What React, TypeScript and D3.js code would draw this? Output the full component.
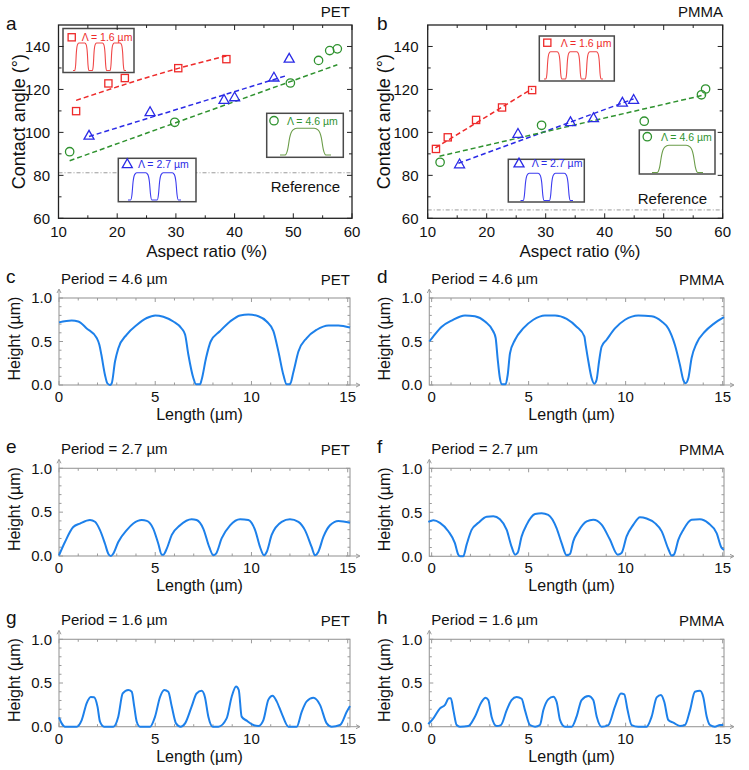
import React from 'react';
import * as d3 from 'd3';

const FONT = "'Liberation Sans', Arial, sans-serif";
const TXT = '#111';

// ---------- Contact angle data (a: PET, b: PMMA) ----------
const aspectTicks = [10, 20, 30, 40, 50, 60];
const angleTicks = [60, 80, 100, 120, 140];

const petRedX = [13.0, 18.5, 21.3, 30.4, 38.6];
const petRedY = [109.9, 122.8, 125.3, 129.9, 134.1];
const petRedFit: [number, number][] = [[13.0, 114.9], [30.4, 129.8], [38.6, 135.6]];
const petBlueX = [15.2, 25.6, 38.2, 40.0, 46.7, 49.3];
const petBlueY = [98.5, 109.5, 115.2, 116.4, 125.6, 134.4];
const petBlueFit: [number, number][] = [[15.2, 98.1], [48.8, 126.4]];
const petGreenX = [11.9, 29.8, 49.5, 54.3, 56.2, 57.5];
const petGreenY = [91.0, 104.7, 123.0, 133.5, 138.1, 138.9];
const petGreenFit: [number, number][] = [[11.9, 86.8], [57.5, 131.5]];
const petReference = 81.2;

const pmmaRedX = [11.4, 13.4, 18.2, 22.6, 27.7];
const pmmaRedY = [92.3, 97.7, 105.8, 111.6, 119.7];
const pmmaRedFit: [number, number][] = [[11.3, 92.8], [27.7, 120.3]];
const pmmaBlueX = [15.4, 25.3, 34.2, 38.1, 43.0, 44.9];
const pmmaBlueY = [85.2, 99.4, 104.8, 106.7, 113.9, 115.2];
const pmmaBlueFit: [number, number][] = [[15.2, 85.6], [44.9, 115.6]];
const pmmaGreenX = [12.1, 29.3, 46.7, 56.4, 57.1];
const pmmaGreenY = [86.1, 103.3, 105.2, 117.5, 120.2];
const pmmaGreenFit: [number, number][] = [[12.0, 88.9], [57.0, 117.5]];
const pmmaReference = 63.9;

const periodLabels = ['Λ = 1.6 µm', 'Λ = 2.7 µm', 'Λ = 4.6 µm'];
const humpCounts = [3, 2, 1];
const insetHump: [number, number][] = [
  [0, 0], [0.1, 0], [0.15, 0.2], [0.19, 0.65], [0.25, 0.93], [0.33, 1],
  [0.67, 1], [0.75, 0.93], [0.81, 0.65], [0.85, 0.2], [0.9, 0], [1, 0],
];

// ---------- Height profiles (c–h) ----------
const lengthTicks = [0, 5, 10, 15];
const heightTicks = [0, 0.5, 1.0];

const profC: [number, number][] = [
  [0, 0.72], [0.66, 0.74], [1.0, 0.73], [1.44, 0.65], [1.96, 0.54], [2.1, 0.46], [2.2, 0.35],
  [2.39, 0.115], [2.51, 0.02], [2.65, 0], [2.74, 0.02], [2.91, 0.27], [3.08, 0.42], [3.52, 0.58],
  [4.04, 0.69], [4.56, 0.77], [5.0, 0.8], [5.42, 0.785], [5.94, 0.73], [6.37, 0.65], [6.55, 0.58],
  [6.72, 0.35], [6.98, 0.08], [7.12, 0.008], [7.33, 0.008], [7.41, 0.06], [7.64, 0.31], [7.88, 0.5],
  [8.37, 0.62], [8.89, 0.73], [9.41, 0.8], [9.84, 0.81], [10.36, 0.79], [10.79, 0.73], [11.14, 0.62],
  [11.4, 0.385], [11.66, 0.115], [11.83, 0.008], [12.0, 0.008], [12.18, 0.15], [12.44, 0.385],
  [12.87, 0.54], [13.39, 0.635], [14.0, 0.685], [14.52, 0.685], [15.12, 0.66],
];
const profD: [number, number][] = [
  [-0.12, 0.5], [0.09, 0.56], [0.52, 0.67], [1.03, 0.74], [1.72, 0.8], [2.23, 0.79], [2.75, 0.73],
  [3.18, 0.615], [3.3, 0.54], [3.4, 0.31], [3.52, 0.077], [3.63, 0.008], [3.81, 0.008], [3.92, 0.115],
  [4.04, 0.365], [4.3, 0.52], [4.72, 0.65], [5.24, 0.75], [5.84, 0.8], [6.36, 0.8], [6.96, 0.76],
  [7.47, 0.67], [7.87, 0.56], [7.94, 0.46], [8.08, 0.27], [8.25, 0.077], [8.38, 0.015], [8.5, 0.058],
  [8.63, 0.27], [8.76, 0.44], [9.02, 0.52], [9.45, 0.65], [9.97, 0.75], [10.65, 0.8], [11.34, 0.79],
  [11.86, 0.73], [12.2, 0.65], [12.54, 0.46], [12.8, 0.23], [12.97, 0.058], [13.09, 0.02],
  [13.23, 0.077], [13.4, 0.31], [13.66, 0.48], [14.09, 0.615], [14.52, 0.7], [15.07, 0.78],
];
const profE: [number, number][] = [
  [0, 0.008], [0.31, 0.16], [0.74, 0.33], [1.09, 0.37], [1.61, 0.41], [1.87, 0.39], [2.13, 0.295],
  [2.39, 0.14], [2.56, 0.027], [2.7, 0], [2.82, 0.027], [3.08, 0.16], [3.52, 0.295], [3.86, 0.37],
  [4.3, 0.41], [4.56, 0.4], [4.9, 0.31], [5.16, 0.14], [5.34, 0.015], [5.42, 0.015], [5.6, 0.084],
  [5.86, 0.24], [6.29, 0.35], [6.89, 0.42], [7.15, 0.41], [7.5, 0.31], [7.81, 0.1], [8.02, 0.008],
  [8.16, 0.027], [8.45, 0.2], [8.89, 0.35], [9.41, 0.42], [9.84, 0.41], [10.19, 0.295], [10.45, 0.1],
  [10.65, 0.008], [10.79, 0.046], [11.05, 0.24], [11.57, 0.39], [12.0, 0.42], [12.44, 0.39],
  [12.78, 0.295], [13.13, 0.1], [13.3, 0.008], [13.47, 0.046], [13.74, 0.22], [14.08, 0.35],
  [14.52, 0.4], [15.12, 0.38],
];
const profF: [number, number][] = [
  [-0.17, 0.39], [0.09, 0.41], [0.43, 0.38], [0.86, 0.285], [1.2, 0.15], [1.37, 0.02], [1.46, 0],
  [1.63, 0], [1.8, 0.13], [2.06, 0.3], [2.41, 0.38], [2.84, 0.45], [3.18, 0.455], [3.52, 0.42],
  [3.87, 0.3], [4.12, 0.11], [4.3, 0.019], [4.43, 0.038], [4.64, 0.226], [4.9, 0.36], [5.33, 0.48],
  [5.67, 0.49], [6.01, 0.47], [6.44, 0.32], [6.7, 0.15], [6.96, 0.011], [7.13, 0.026], [7.3, 0.17],
  [7.56, 0.283], [7.99, 0.396], [8.33, 0.415], [8.76, 0.36], [9.19, 0.19], [9.59, 0.019],
  [9.79, 0.038], [10.05, 0.226], [10.4, 0.36], [10.74, 0.445], [11.08, 0.43], [11.51, 0.377],
  [11.86, 0.283], [12.2, 0.083], [12.37, 0.008], [12.49, 0.019], [12.72, 0.19], [12.97, 0.3],
  [13.4, 0.415], [13.83, 0.42], [14.26, 0.377], [14.69, 0.264], [14.95, 0.094], [15.07, 0.075],
];
const profG: [number, number][] = [
  [0, 0.107], [0.14, 0.038], [0.31, 0], [0.92, 0], [1.18, 0.076], [1.44, 0.27], [1.65, 0.34],
  [1.82, 0.336], [2.0, 0.23], [2.13, 0.057], [2.34, 0], [2.82, 0], [3.08, 0.115], [3.31, 0.38],
  [3.6, 0.42], [3.78, 0.4], [3.91, 0.23], [4.04, 0.057], [4.21, 0], [4.73, 0], [4.99, 0.115],
  [5.25, 0.34], [5.47, 0.42], [5.68, 0.4], [5.86, 0.23], [6.08, 0.038], [6.32, 0], [6.55, 0.038],
  [6.89, 0.23], [7.15, 0.38], [7.41, 0.41], [7.58, 0.34], [7.76, 0.115], [7.99, 0], [8.28, 0],
  [8.71, 0.095], [8.97, 0.34], [9.2, 0.46], [9.34, 0.42], [9.49, 0.115], [9.75, 0.069], [10.1, 0.019],
  [10.36, 0.008], [10.62, 0.076], [10.88, 0.31], [11.1, 0.355], [11.31, 0.29], [11.57, 0.153],
  [11.92, 0], [12.35, 0], [12.61, 0.17], [12.87, 0.29], [13.22, 0.33], [13.56, 0.25], [13.91, 0.038],
  [14.17, 0], [14.6, 0.019], [14.95, 0.17], [15.12, 0.237],
];
const profH: [number, number][] = [
  [-0.17, 0.03], [0.09, 0.095], [0.43, 0.21], [0.69, 0.25], [0.89, 0.325], [0.99, 0.325],
  [1.12, 0.19], [1.29, 0.019], [1.46, 0], [1.89, 0.008], [2.23, 0.115], [2.58, 0.286], [2.78, 0.33],
  [2.92, 0.305], [3.09, 0.115], [3.35, 0.008], [3.57, 0.019], [3.87, 0.19], [4.12, 0.305],
  [4.38, 0.34], [4.64, 0.32], [4.81, 0.19], [5.07, 0.019], [5.33, 0], [5.58, 0.019], [5.76, 0.19],
  [6.01, 0.313], [6.27, 0.343], [6.44, 0.286], [6.62, 0.076], [6.87, 0], [7.22, 0], [7.47, 0.115],
  [7.73, 0.305], [8.08, 0.35], [8.33, 0.305], [8.51, 0.115], [8.76, 0], [9.11, 0.019], [9.45, 0.23],
  [9.76, 0.38], [9.93, 0.37], [10.1, 0.19], [10.31, 0.019], [10.65, 0], [11.08, 0], [11.34, 0.115],
  [11.6, 0.336], [11.82, 0.363], [11.99, 0.286], [12.2, 0.076], [12.46, 0.046], [12.8, 0.008],
  [13.06, 0.019], [13.32, 0.19], [13.57, 0.4], [13.83, 0.41], [14.0, 0.34], [14.18, 0.115],
  [14.35, 0.019], [14.6, 0], [14.86, 0.019], [15.03, 0.019],
];

// ---------- styles ----------
const RED = '#ee2a2a';
const BLUE = '#2a2ae6';
const GREEN = '#2f922f';
const INSET_COLORS = ['#f04848', '#3c3cf0', '#6a9c48'];
const PROFILE_COLOR = '#1d80ea';

type Shape = 'square' | 'triangle' | 'circle';

function Marker({ shape, cx, cy, color }: { shape: Shape; cx: number; cy: number; color: string }) {
  if (shape === 'square')
    return <rect x={cx - 3.6} y={cy - 3.6} width={7.2} height={7.2} fill="none" stroke={color} strokeWidth={1.3} />;
  if (shape === 'triangle')
    return (
      <polygon
        points={`${cx},${cy - 5.2} ${cx - 5},${cy + 3.6} ${cx + 5},${cy + 3.6}`}
        fill="none"
        stroke={color}
        strokeWidth={1.3}
      />
    );
  return <circle cx={cx} cy={cy} r={4.2} fill="none" stroke={color} strokeWidth={1.3} />;
}

interface InsetBox { bx0: number; by0: number; bx1: number; by1: number; mx: number; my: number; tx: number; ty: number; cx0: number; cx1: number; cy0: number; cy1: number; }

interface ScatterCfg {
  x0: number; x1: number; y0: number; y1: number;
  letter: string; letterX: number; material: string; materialX: number;
  yLabelRight: number; yTitleX: number; xTitleX: number;
  refLabelRight: number; refLabelY: number;
  insets: InsetBox[];
}

function insetPath(n: number, b: InsetBox) {
  const pts: [number, number][] = [];
  for (let i = 0; i < n; i++) {
    insetHump.forEach((p, j) => {
      if (i > 0 && j === 0) return;
      pts.push([(i + p[0]) / n, p[1]]);
    });
  }
  const sx = d3.scaleLinear().domain([0, 1]).range([b.cx0, b.cx1]);
  const sy = d3.scaleLinear().domain([0, 1]).range([b.cy1, b.cy0]);
  return d3.line<[number, number]>().x((d) => sx(d[0])).y((d) => sy(d[1])).curve(d3.curveMonotoneX)(pts) || '';
}

function ScatterPanel({ cfg, series, reference }: {
  cfg: ScatterCfg;
  series: { xs: number[]; ys: number[]; fit: [number, number][]; color: string; shape: Shape }[];
  reference: number;
}) {
  const x = d3.scaleLinear().domain([10, 60]).range([cfg.x0, cfg.x1]);
  const y = d3.scaleLinear().domain([60, 150]).range([cfg.y1, cfg.y0]);
  const line = d3.line<[number, number]>().x((d) => x(d[0])).y((d) => y(d[1])).curve(d3.curveMonotoneX);
  const xMinor = d3.range(15, 60, 10);
  const yMinor = d3.range(70, 150, 20);
  const shapes: Shape[] = ['square', 'triangle', 'circle'];
  const inColors = [RED, BLUE, GREEN];
  return (
    <g fontFamily={FONT}>
      {/* reference line */}
      <line x1={cfg.x0} x2={cfg.x1} y1={y(reference)} y2={y(reference)} stroke="#9a9a9a" strokeWidth={1} strokeDasharray="4,2,1,2" />
      {/* fits */}
      {series.map((s, i) => (
        <path key={'f' + i} d={line(s.fit) || ''} fill="none" stroke={s.color} strokeWidth={1.5} strokeDasharray="5,3" />
      ))}
      {/* markers */}
      {series.map((s, i) =>
        s.xs.map((xv, j) => <Marker key={`m${i}-${j}`} shape={s.shape} cx={x(xv)} cy={y(s.ys[j])} color={s.color} />)
      )}
      {/* insets */}
      {cfg.insets.map((b, i) => (
        <g key={'in' + i}>
          <rect x={b.bx0} y={b.by0} width={b.bx1 - b.bx0} height={b.by1 - b.by0} fill="#fff" stroke="#4a4a4a" strokeWidth={1.5} />
          <Marker shape={shapes[i]} cx={b.mx} cy={b.my} color={inColors[i]} />
          <text x={b.tx} y={b.ty} fontSize={10.5} fill={inColors[i]}>{periodLabels[i]}</text>
          <path d={insetPath(humpCounts[i], b)} fill="none" stroke={INSET_COLORS[i]} strokeWidth={1.1} />
        </g>
      ))}
      {/* frame */}
      <rect x={cfg.x0} y={cfg.y0} width={cfg.x1 - cfg.x0} height={cfg.y1 - cfg.y0} fill="none" stroke="#222" strokeWidth={1.3} />
      {aspectTicks.map((t) => (
        <g key={'xt' + t}>
          <line x1={x(t)} x2={x(t)} y1={cfg.y1} y2={cfg.y1 - 5} stroke="#222" />
          <line x1={x(t)} x2={x(t)} y1={cfg.y0} y2={cfg.y0 + 5} stroke="#222" />
          <text x={x(t)} y={cfg.y1 + 19} fontSize={15} textAnchor="middle" fill={TXT}>{t}</text>
        </g>
      ))}
      {xMinor.map((t) => (
        <g key={'xm' + t}>
          <line x1={x(t)} x2={x(t)} y1={cfg.y1} y2={cfg.y1 - 3} stroke="#222" />
          <line x1={x(t)} x2={x(t)} y1={cfg.y0} y2={cfg.y0 + 3} stroke="#222" />
        </g>
      ))}
      {angleTicks.map((t) => (
        <g key={'yt' + t}>
          <line x1={cfg.x0} x2={cfg.x0 + 5} y1={y(t)} y2={y(t)} stroke="#222" />
          <line x1={cfg.x1} x2={cfg.x1 - 5} y1={y(t)} y2={y(t)} stroke="#222" />
          <text x={cfg.yLabelRight} y={y(t) + 5.3} fontSize={15} textAnchor="end" fill={TXT}>{t}</text>
        </g>
      ))}
      {yMinor.map((t) => (
        <g key={'ym' + t}>
          <line x1={cfg.x0} x2={cfg.x0 + 3} y1={y(t)} y2={y(t)} stroke="#222" />
          <line x1={cfg.x1} x2={cfg.x1 - 3} y1={y(t)} y2={y(t)} stroke="#222" />
        </g>
      ))}
      <text x={cfg.refLabelRight} y={cfg.refLabelY} fontSize={15} textAnchor="end" fill={TXT}>Reference</text>
      <text x={cfg.xTitleX} y={cfg.y1 + 39} fontSize={17} textAnchor="middle" fill={TXT}>Aspect ratio (%)</text>
      <text
        transform={`translate(${cfg.yTitleX},${(cfg.y0 + cfg.y1) / 2}) rotate(-90)`}
        fontSize={18}
        textAnchor="middle"
        fill={TXT}
      >
        Contact angle (°)
      </text>
      <text x={cfg.letterX} y={cfg.y0 + 5} fontSize={19} fill={TXT}>{cfg.letter}</text>
      <text x={cfg.materialX} y={cfg.y0 - 8} fontSize={15} textAnchor="end" fill={TXT}>{cfg.material}</text>
    </g>
  );
}

interface ProfileCfg {
  x0: number; x1: number; y0: number; y1: number; xDomain: [number, number];
  letter: string; letterX: number; material: string; period: string;
}

function ProfilePanel({ cfg, data }: { cfg: ProfileCfg; data: [number, number][] }) {
  const x = d3.scaleLinear().domain(cfg.xDomain).range([cfg.x0, cfg.x1]);
  const y = d3.scaleLinear().domain([0, 1]).range([cfg.y1, cfg.y0]);
  const line = d3.line<[number, number]>().x((d) => x(d[0])).y((d) => y(d[1])).curve(d3.curveMonotoneX);
  const xMinor = d3.range(1, 16).filter((v) => v % 5 !== 0);
  const yMinor = d3.range(1, 10).map((v) => v / 10).filter((v) => Math.abs(v - 0.5) > 1e-6);
  const G = '#9a9a9a';
  return (
    <g fontFamily={FONT}>
      <rect x={cfg.x0} y={cfg.y0} width={cfg.x1 - cfg.x0} height={cfg.y1 - cfg.y0} fill="none" stroke={G} strokeWidth={1.1} />
      {/* arrows */}
      <line x1={cfg.x0} x2={cfg.x0} y1={cfg.y0} y2={cfg.y0 - 8} stroke={G} />
      <path d={`M${cfg.x0 - 2},${cfg.y0 - 5} L${cfg.x0},${cfg.y0 - 9} L${cfg.x0 + 2},${cfg.y0 - 5}`} fill="none" stroke={G} />
      <line x1={cfg.x1} x2={cfg.x1 + 9} y1={cfg.y1} y2={cfg.y1} stroke={G} />
      <path d={`M${cfg.x1 + 6},${cfg.y1 - 2} L${cfg.x1 + 10},${cfg.y1} L${cfg.x1 + 6},${cfg.y1 + 2}`} fill="none" stroke={G} />
      {lengthTicks.map((t) => (
        <g key={'xt' + t}>
          <line x1={x(t)} x2={x(t)} y1={cfg.y1} y2={cfg.y1 - 4} stroke={G} />
          <line x1={x(t)} x2={x(t)} y1={cfg.y0} y2={cfg.y0 + 4} stroke={G} />
          <text x={x(t)} y={cfg.y1 + 17} fontSize={15} textAnchor="middle" fill={TXT}>{t}</text>
        </g>
      ))}
      {xMinor.map((t) => (
        <g key={'xm' + t}>
          <line x1={x(t)} x2={x(t)} y1={cfg.y1} y2={cfg.y1 - 2.5} stroke={G} />
          <line x1={x(t)} x2={x(t)} y1={cfg.y0} y2={cfg.y0 + 2.5} stroke={G} />
        </g>
      ))}
      {heightTicks.map((t) => (
        <g key={'yt' + t}>
          <line x1={cfg.x0} x2={cfg.x0 + 4} y1={y(t)} y2={y(t)} stroke={G} />
          <line x1={cfg.x1} x2={cfg.x1 - 4} y1={y(t)} y2={y(t)} stroke={G} />
          <text x={cfg.x0 - 7} y={y(t) + 5.3} fontSize={15} textAnchor="end" fill={TXT}>{t.toFixed(1)}</text>
        </g>
      ))}
      {yMinor.map((t) => (
        <g key={'ym' + t}>
          <line x1={cfg.x0} x2={cfg.x0 + 2.5} y1={y(t)} y2={y(t)} stroke={G} />
          <line x1={cfg.x1} x2={cfg.x1 - 2.5} y1={y(t)} y2={y(t)} stroke={G} />
        </g>
      ))}
      <path d={line(data) || ''} fill="none" stroke={PROFILE_COLOR} strokeWidth={2} strokeLinejoin="round" />
      <text x={(cfg.x0 + cfg.x1) / 2 - 5} y={cfg.y1 + 35} fontSize={16} textAnchor="middle" fill={TXT}>Length (µm)</text>
      <text
        transform={`translate(${cfg.x0 - 39},${(cfg.y0 + cfg.y1) / 2 - 3}) rotate(-90)`}
        fontSize={16}
        textAnchor="middle"
        fill={TXT}
      >
        Height (µm)
      </text>
      <text x={cfg.x0 + 2} y={cfg.y0 - 14.5} fontSize={15} fill={TXT}>{cfg.period}</text>
      <text x={cfg.x1} y={cfg.y0 - 13} fontSize={15} textAnchor="end" fill={TXT}>{cfg.material}</text>
      <text x={cfg.letterX} y={cfg.y0 - 15} fontSize={19} fill={TXT}>{cfg.letter}</text>
    </g>
  );
}

const cfgA: ScatterCfg = {
  x0: 58.5, x1: 352, y0: 25, y1: 218.3, letter: 'a', letterX: 6, material: 'PET', materialX: 350,
  yLabelRight: 50, yTitleX: 25, xTitleX: 206.7, refLabelRight: 340, refLabelY: 192,
  insets: [
    { bx0: 63, by0: 28.5, bx1: 134, by1: 72.5, mx: 71.7, my: 37.3, tx: 81.7, ty: 41, cx0: 73, cx1: 126, cy0: 43, cy1: 70.5 },
    { bx0: 118.3, by0: 158.3, bx1: 196, by1: 201.7, mx: 127.3, my: 164, tx: 138, ty: 168, cx0: 128, cx1: 181, cy0: 172.7, cy1: 200 },
    { bx0: 266.7, by0: 113.3, bx1: 343.3, by1: 157.3, mx: 274, my: 120.7, tx: 287, ty: 124.5, cx0: 280, cx1: 331, cy0: 128.3, cy1: 155 },
  ],
};
const cfgB: ScatterCfg = {
  x0: 427.7, x1: 722.7, y0: 25, y1: 218.3, letter: 'b', letterX: 377, material: 'PMMA', materialX: 723,
  yLabelRight: 418.5, yTitleX: 390, xTitleX: 580, refLabelRight: 707, refLabelY: 204,
  insets: [
    { bx0: 539.3, by0: 36, bx1: 614.3, by1: 81, mx: 547.3, my: 42.7, tx: 560.7, ty: 46.5, cx0: 544, cx1: 603, cy0: 51.7, cy1: 79 },
    { bx0: 508.3, by0: 159.3, bx1: 584.3, by1: 202, mx: 519, my: 163.3, tx: 531.7, ty: 167, cx0: 520.5, cx1: 573, cy0: 173.3, cy1: 200.5 },
    { bx0: 639.3, by0: 130, bx1: 715, by1: 174, mx: 647.3, my: 136.7, tx: 661, ty: 140.5, cx0: 652, cx1: 703, cy0: 145.3, cy1: 172.5 },
  ],
};

const L = { x0: 59, x1: 350, xDomain: [0, 15.12] as [number, number], letterX: 6 };
const R = { x0: 429.3, x1: 724, xDomain: [-0.12, 15.07] as [number, number], letterX: 377 };

const profileCfgs: { cfg: ProfileCfg; data: [number, number][] }[] = [
  { cfg: { ...L, y0: 298, y1: 385, letter: 'c', material: 'PET', period: 'Period = 4.6 µm' }, data: profC },
  { cfg: { ...R, y0: 298, y1: 385, letter: 'd', material: 'PMMA', period: 'Period = 4.6 µm' }, data: profD },
  { cfg: { ...L, y0: 468.3, y1: 556, letter: 'e', material: 'PET', period: 'Period = 2.7 µm' }, data: profE },
  { cfg: { ...R, y0: 468.3, y1: 556.3, letter: 'f', material: 'PMMA', period: 'Period = 2.7 µm' }, data: profF },
  { cfg: { ...L, y0: 639.3, y1: 726.7, letter: 'g', material: 'PET', period: 'Period = 1.6 µm' }, data: profG },
  { cfg: { ...R, y0: 639.3, y1: 726.7, letter: 'h', material: 'PMMA', period: 'Period = 1.6 µm' }, data: profH },
];

export default function App() {
  const petSeries = [
    { xs: petRedX, ys: petRedY, fit: petRedFit, color: RED, shape: 'square' as Shape },
    { xs: petBlueX, ys: petBlueY, fit: petBlueFit, color: BLUE, shape: 'triangle' as Shape },
    { xs: petGreenX, ys: petGreenY, fit: petGreenFit, color: GREEN, shape: 'circle' as Shape },
  ];
  const pmmaSeries = [
    { xs: pmmaRedX, ys: pmmaRedY, fit: pmmaRedFit, color: RED, shape: 'square' as Shape },
    { xs: pmmaBlueX, ys: pmmaBlueY, fit: pmmaBlueFit, color: BLUE, shape: 'triangle' as Shape },
    { xs: pmmaGreenX, ys: pmmaGreenY, fit: pmmaGreenFit, color: GREEN, shape: 'circle' as Shape },
  ];
  return (
    <svg
      width={749}
      height={770}
      viewBox="0 0 749 770"
      style={{ position: 'absolute', left: 0, top: 0, background: '#fff' }}
    >
      <rect x={0} y={0} width={749} height={770} fill="#fff" />
      <ScatterPanel cfg={cfgA} series={petSeries} reference={petReference} />
      <ScatterPanel cfg={cfgB} series={pmmaSeries} reference={pmmaReference} />
      {profileCfgs.map((p, i) => (
        <ProfilePanel key={i} cfg={p.cfg} data={p.data} />
      ))}
    </svg>
  );
}
